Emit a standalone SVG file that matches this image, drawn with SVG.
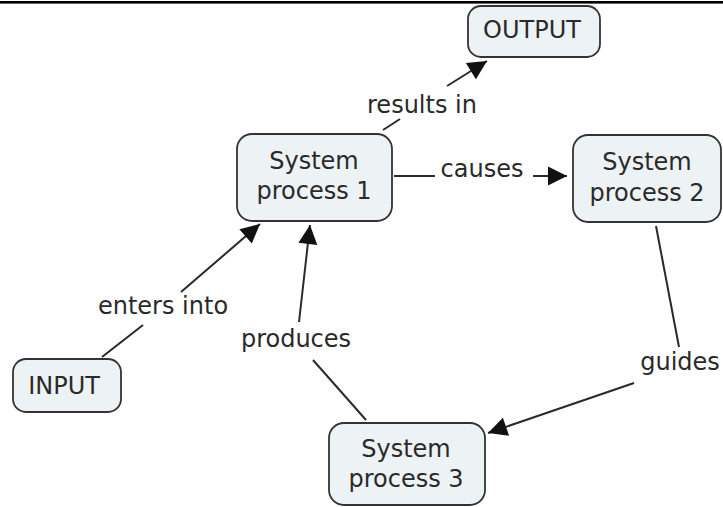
<svg xmlns="http://www.w3.org/2000/svg" width="723" height="507" viewBox="0 0 723 507">
  <style>
    .node rect { fill: #edf2f4; stroke: #333; stroke-width: 1.8; }
    text { font-family: "DejaVu Sans", Verdana, sans-serif; font-size: 24px; fill: #2a2a2a; text-anchor: middle; }
    .link { stroke: #2a2a2a; stroke-width: 2; fill: none; }
  </style>
  <defs>
    <marker id="arrow" markerUnits="userSpaceOnUse" markerWidth="22" markerHeight="22" viewBox="-20 -11 22 22" refX="0" refY="0" orient="auto">
      <path d="M0,0 L-19,-9.5 L-19,9.5 Z" fill="#111"/>
    </marker>
  </defs>

  <rect x="0" y="1" width="723" height="2.6" fill="#000"/>

  <g id="connectors">
    <!-- System process 1 -> OUTPUT -->
    <line class="link" x1="383" y1="130" x2="400" y2="119"/>
    <line class="link" x1="447" y1="86" x2="487" y2="61" marker-end="url(#arrow)"/>
    <!-- System process 1 -> System process 2 -->
    <line class="link" x1="394" y1="176" x2="435" y2="176"/>
    <line class="link" x1="533" y1="176" x2="567" y2="176" marker-end="url(#arrow)"/>
    <!-- INPUT -> System process 1 -->
    <line class="link" x1="102" y1="357" x2="143" y2="325"/>
    <line class="link" x1="181" y1="292" x2="260" y2="224" marker-end="url(#arrow)"/>
    <!-- System process 3 -> System process 1 -->
    <line class="link" x1="366" y1="420" x2="313" y2="360"/>
    <line class="link" x1="299" y1="322" x2="310" y2="225" marker-end="url(#arrow)"/>
    <!-- System process 2 -> System process 3 -->
    <line class="link" x1="656" y1="226" x2="679" y2="347"/>
    <line class="link" x1="634" y1="383" x2="488" y2="433" marker-end="url(#arrow)"/>
  </g>

  <g id="labels">
    <text x="422" y="113">results in</text>
    <text x="482" y="177">causes</text>
    <text x="163" y="314">enters into</text>
    <text x="296" y="347">produces</text>
    <text x="680" y="370">guides</text>
  </g>

  <g id="output" class="node">
    <rect x="468" y="6" width="132" height="51" rx="13"/>
    <text x="532" y="38">OUTPUT</text>
  </g>
  <g id="system-process-1" class="node">
    <rect x="237" y="134" width="155" height="87" rx="15"/>
    <text x="314" y="169">System</text>
    <text x="314" y="199">process 1</text>
  </g>
  <g id="system-process-2" class="node">
    <rect x="573" y="135" width="148" height="87" rx="15"/>
    <text x="647" y="170">System</text>
    <text x="647" y="201">process 2</text>
  </g>
  <g id="input" class="node">
    <rect x="13" y="359" width="108" height="53" rx="13"/>
    <text x="64" y="394">INPUT</text>
  </g>
  <g id="system-process-3" class="node">
    <rect x="329" y="423" width="156" height="82" rx="15"/>
    <text x="406" y="457">System</text>
    <text x="406" y="487">process 3</text>
  </g>
</svg>
